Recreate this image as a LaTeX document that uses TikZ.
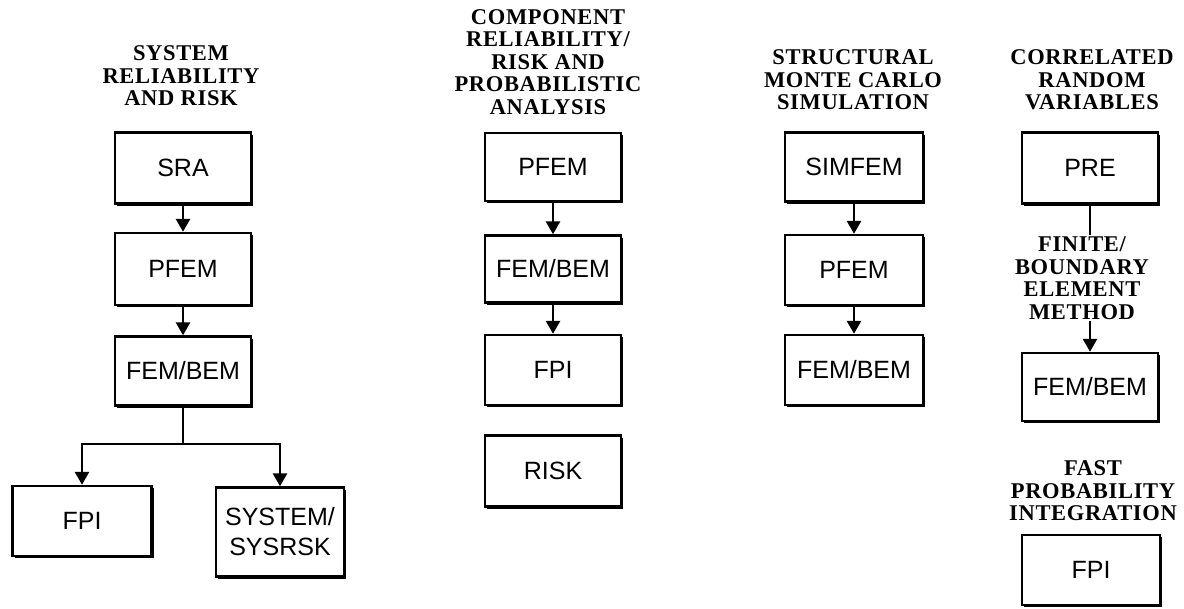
\documentclass[tikz,border=0pt]{standalone}
\usepackage{fontspec}
\usetikzlibrary{arrows.meta,shadows}
\newfontfamily\headfont{Liberation Serif}[LetterSpace=3]
\newfontfamily\boxfont{Liberation Sans}
\begin{document}
\begin{tikzpicture}[x=1pt,y=-1pt,
  box/.style={draw, line width=2.4pt, fill=white, rectangle, inner sep=0pt,
    font=\boxfont\fontsize{25}{30}\selectfont, align=center,
    drop shadow={shadow xshift=2.4pt, shadow yshift=-2.4pt, fill=black, opacity=1}},
  head/.style={font=\headfont\bfseries\fontsize{22.5}{22.5}\selectfont, align=center, inner sep=2pt},
  conn/.style={line width=2.8pt},
  arr/.style={conn, -{Triangle[width=14pt,length=13pt]}}]
\useasboundingbox (0,0) rectangle (1184,609);
% column 1
\node[head] (h1) at (181,76) {SYSTEM\\RELIABILITY\\AND RISK};
\node[box, minimum width=136, minimum height=71] (sra) at (183,168) {SRA};
\node[box, minimum width=136, minimum height=72] (pfem1) at (183,269) {PFEM};
\node[box, minimum width=136, minimum height=69] (fem1) at (183,371) {FEM/BEM};
\node[box, minimum width=139, minimum height=70] (fpi1) at (82,521) {FPI};
\node[box, minimum width=128, minimum height=89] (sys) at (280,532) {SYSTEM/\\SYSRSK};
\coordinate (j1) at (fem1.south |- 0,444);
\draw[arr] (sra) -- (pfem1);
\draw[arr] (pfem1) -- (fem1);
\draw[conn] (fem1.south) -- (j1);
\draw[arr] (j1) -| (fpi1.north);
\draw[arr] (j1) -| (sys.north);
% column 2
\node[head] (h2) at (548,62) {COMPONENT\\RELIABILITY/\\RISK AND\\PROBABILISTIC\\ANALYSIS};
\node[box, minimum width=136, minimum height=68] (pfem2) at (553,167) {PFEM};
\node[box, minimum width=136, minimum height=67] (fem2) at (553,269) {FEM/BEM};
\node[box, minimum width=136, minimum height=70] (fpi2) at (553,370) {FPI};
\node[box, minimum width=136, minimum height=71] (risk) at (553,471) {RISK};
\draw[arr] (pfem2) -- (fem2);
\draw[arr] (fem2) -- (fpi2);
% column 3
\node[head] (h3) at (853,80) {STRUCTURAL\\MONTE CARLO\\SIMULATION};
\node[box, minimum width=138, minimum height=69] (simfem) at (854,167) {SIMFEM};
\node[box, minimum width=138, minimum height=70] (pfem3) at (854,270) {PFEM};
\node[box, minimum width=138, minimum height=70] (fem3) at (854,370) {FEM/BEM};
\draw[arr] (simfem) -- (pfem3);
\draw[arr] (pfem3) -- (fem3);
% column 4
\node[head] (h4) at (1092,80) {CORRELATED\\RANDOM\\VARIABLES};
\node[box, minimum width=136, minimum height=71] (pre) at (1090,168) {PRE};
\node[head] (fb) at (1082,278) {FINITE/\\BOUNDARY\\ELEMENT\\METHOD};
\node[box, minimum width=136, minimum height=68] (fem4) at (1090,387) {FEM/BEM};
\node[head] (h5) at (1093,491) {FAST\\PROBABILITY\\INTEGRATION};
\node[box, minimum width=138, minimum height=70] (fpi4) at (1091,570) {FPI};
\draw[conn] (pre.south) -- (pre.south |- fb.north);
\draw[arr] (pre.south |- fb.south) -- (fem4.north);
\end{tikzpicture}
\end{document}
